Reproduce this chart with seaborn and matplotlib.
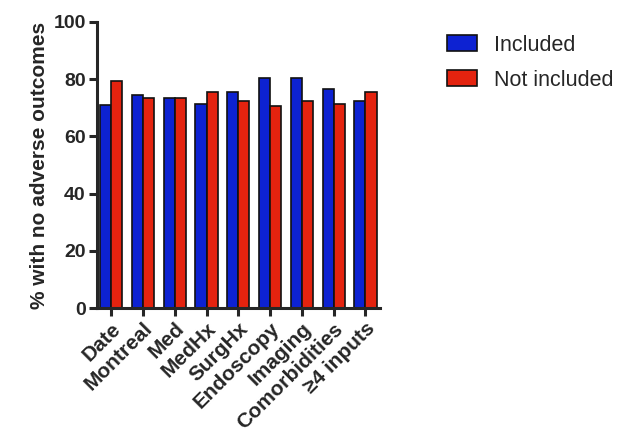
import pandas as pd
import matplotlib.pyplot as plt
import seaborn as sns

sns.set_style("ticks")
plt.rcParams['font.family'] = ['Liberation Sans', 'DejaVu Sans']

# data
inputs = ["Date", "Montreal", "Med", "MedHx", "SurgHx", "Endoscopy",
          "Imaging", "Comorbidities", "\u22654 inputs"]
included = [71, 74.5, 73.5, 71.5, 75.5, 80.5, 80.5, 76.5, 72.5]
not_included = [79.5, 73.5, 73.5, 75.5, 72.5, 70.5, 72.5, 71.5, 75.5]

df = pd.DataFrame({
    'Input': inputs * 2,
    'Pct': included + not_included,
    'Group': ['Included'] * len(inputs) + ['Not included'] * len(inputs),
})

fig = plt.figure(figsize=(6.33, 4.4), dpi=100)
ax = fig.add_axes([0.153, 0.30, 0.447, 0.65])

sns.barplot(data=df, x='Input', y='Pct', hue='Group',
            palette={'Included': '#0d22d2', 'Not included': '#e4230f'},
            width=0.7, edgecolor='#111111', linewidth=1.2, saturation=1,
            ax=ax)

ax.set_ylim(0, 100)
ax.set_yticks(range(0, 101, 20))
ax.set_xlim(-0.45, len(inputs) - 0.55)
ax.set_xlabel('')
ax.set_ylabel('% with no adverse outcomes', fontsize=15, fontweight='bold',
              labelpad=3)
sns.despine(ax=ax)
for s in ['left', 'bottom']:
    ax.spines[s].set_linewidth(2.2)
ax.tick_params(axis='both', width=2.2, length=6, labelsize=14, pad=2)
for lbl in ax.get_yticklabels():
    lbl.set_fontweight('bold')
ax.set_xticks(range(len(inputs)))
ax.set_xticklabels(inputs, rotation=45, ha='right', rotation_mode='anchor',
                   fontweight='bold', fontsize=15)

handles, labels = ax.get_legend_handles_labels()
ax.get_legend().remove()
fig.legend(handles, labels, loc='upper left', bbox_to_anchor=(0.675, 0.965),
           frameon=False, fontsize=15.5, handlelength=1.4, handleheight=0.75,
           labelspacing=0.65, handletextpad=0.8)

fig.savefig('out.png', dpi=100)
